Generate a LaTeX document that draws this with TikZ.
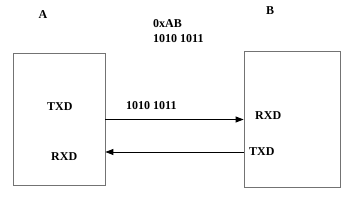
\documentclass[tikz,border=0pt]{standalone}
\usepackage{fontspec}
\setmainfont{Liberation Serif}
\usetikzlibrary{arrows.meta}
\begin{document}
\begin{tikzpicture}[x=1pt,y=-1pt,
  lbl/.style={font=\bfseries\fontsize{12}{14}\selectfont, inner sep=0pt},
  box/.style={draw=black!55, line width=0.8pt, inner sep=0pt},
  conn/.style={line width=0.9pt, -{Triangle[length=8pt,width=6pt]}}]
\useasboundingbox (0,0) rectangle (356,200);
\node[box, minimum width=92pt, minimum height=132pt] (A) at (59,119) {};
\node[box, minimum width=96pt, minimum height=136pt] (B) at (292,119) {};
\node[lbl] (la) at (43,15) {A};
\node[lbl] (lb) at (270,11) {B};
\node[lbl, anchor=west] (hex) at (153,23.5) {0xAB};
\node[lbl, anchor=west] (bin) at (153,38.5) {1010 1011};
\node[lbl, anchor=west] (atx) at (47,106.5) {TXD};
\node[lbl, anchor=west] (arx) at (51,157) {RXD};
\node[lbl, anchor=west] (bits) at (126,106) {1010 1011};
\node[lbl, anchor=west] (brx) at (255,116) {RXD};
\node[lbl, anchor=west] (btx) at (249,152) {TXD};
\coordinate (a1) at (A.east |- 0,119.5);
\coordinate (b1) at (B.west |- 0,119.5);
\coordinate (a2) at (A.east |- 0,152);
\coordinate (b2) at (B.west |- 0,152);
\draw[conn] (a1) -- (b1);
\draw[conn] (b2) -- (a2);
\end{tikzpicture}
\end{document}
